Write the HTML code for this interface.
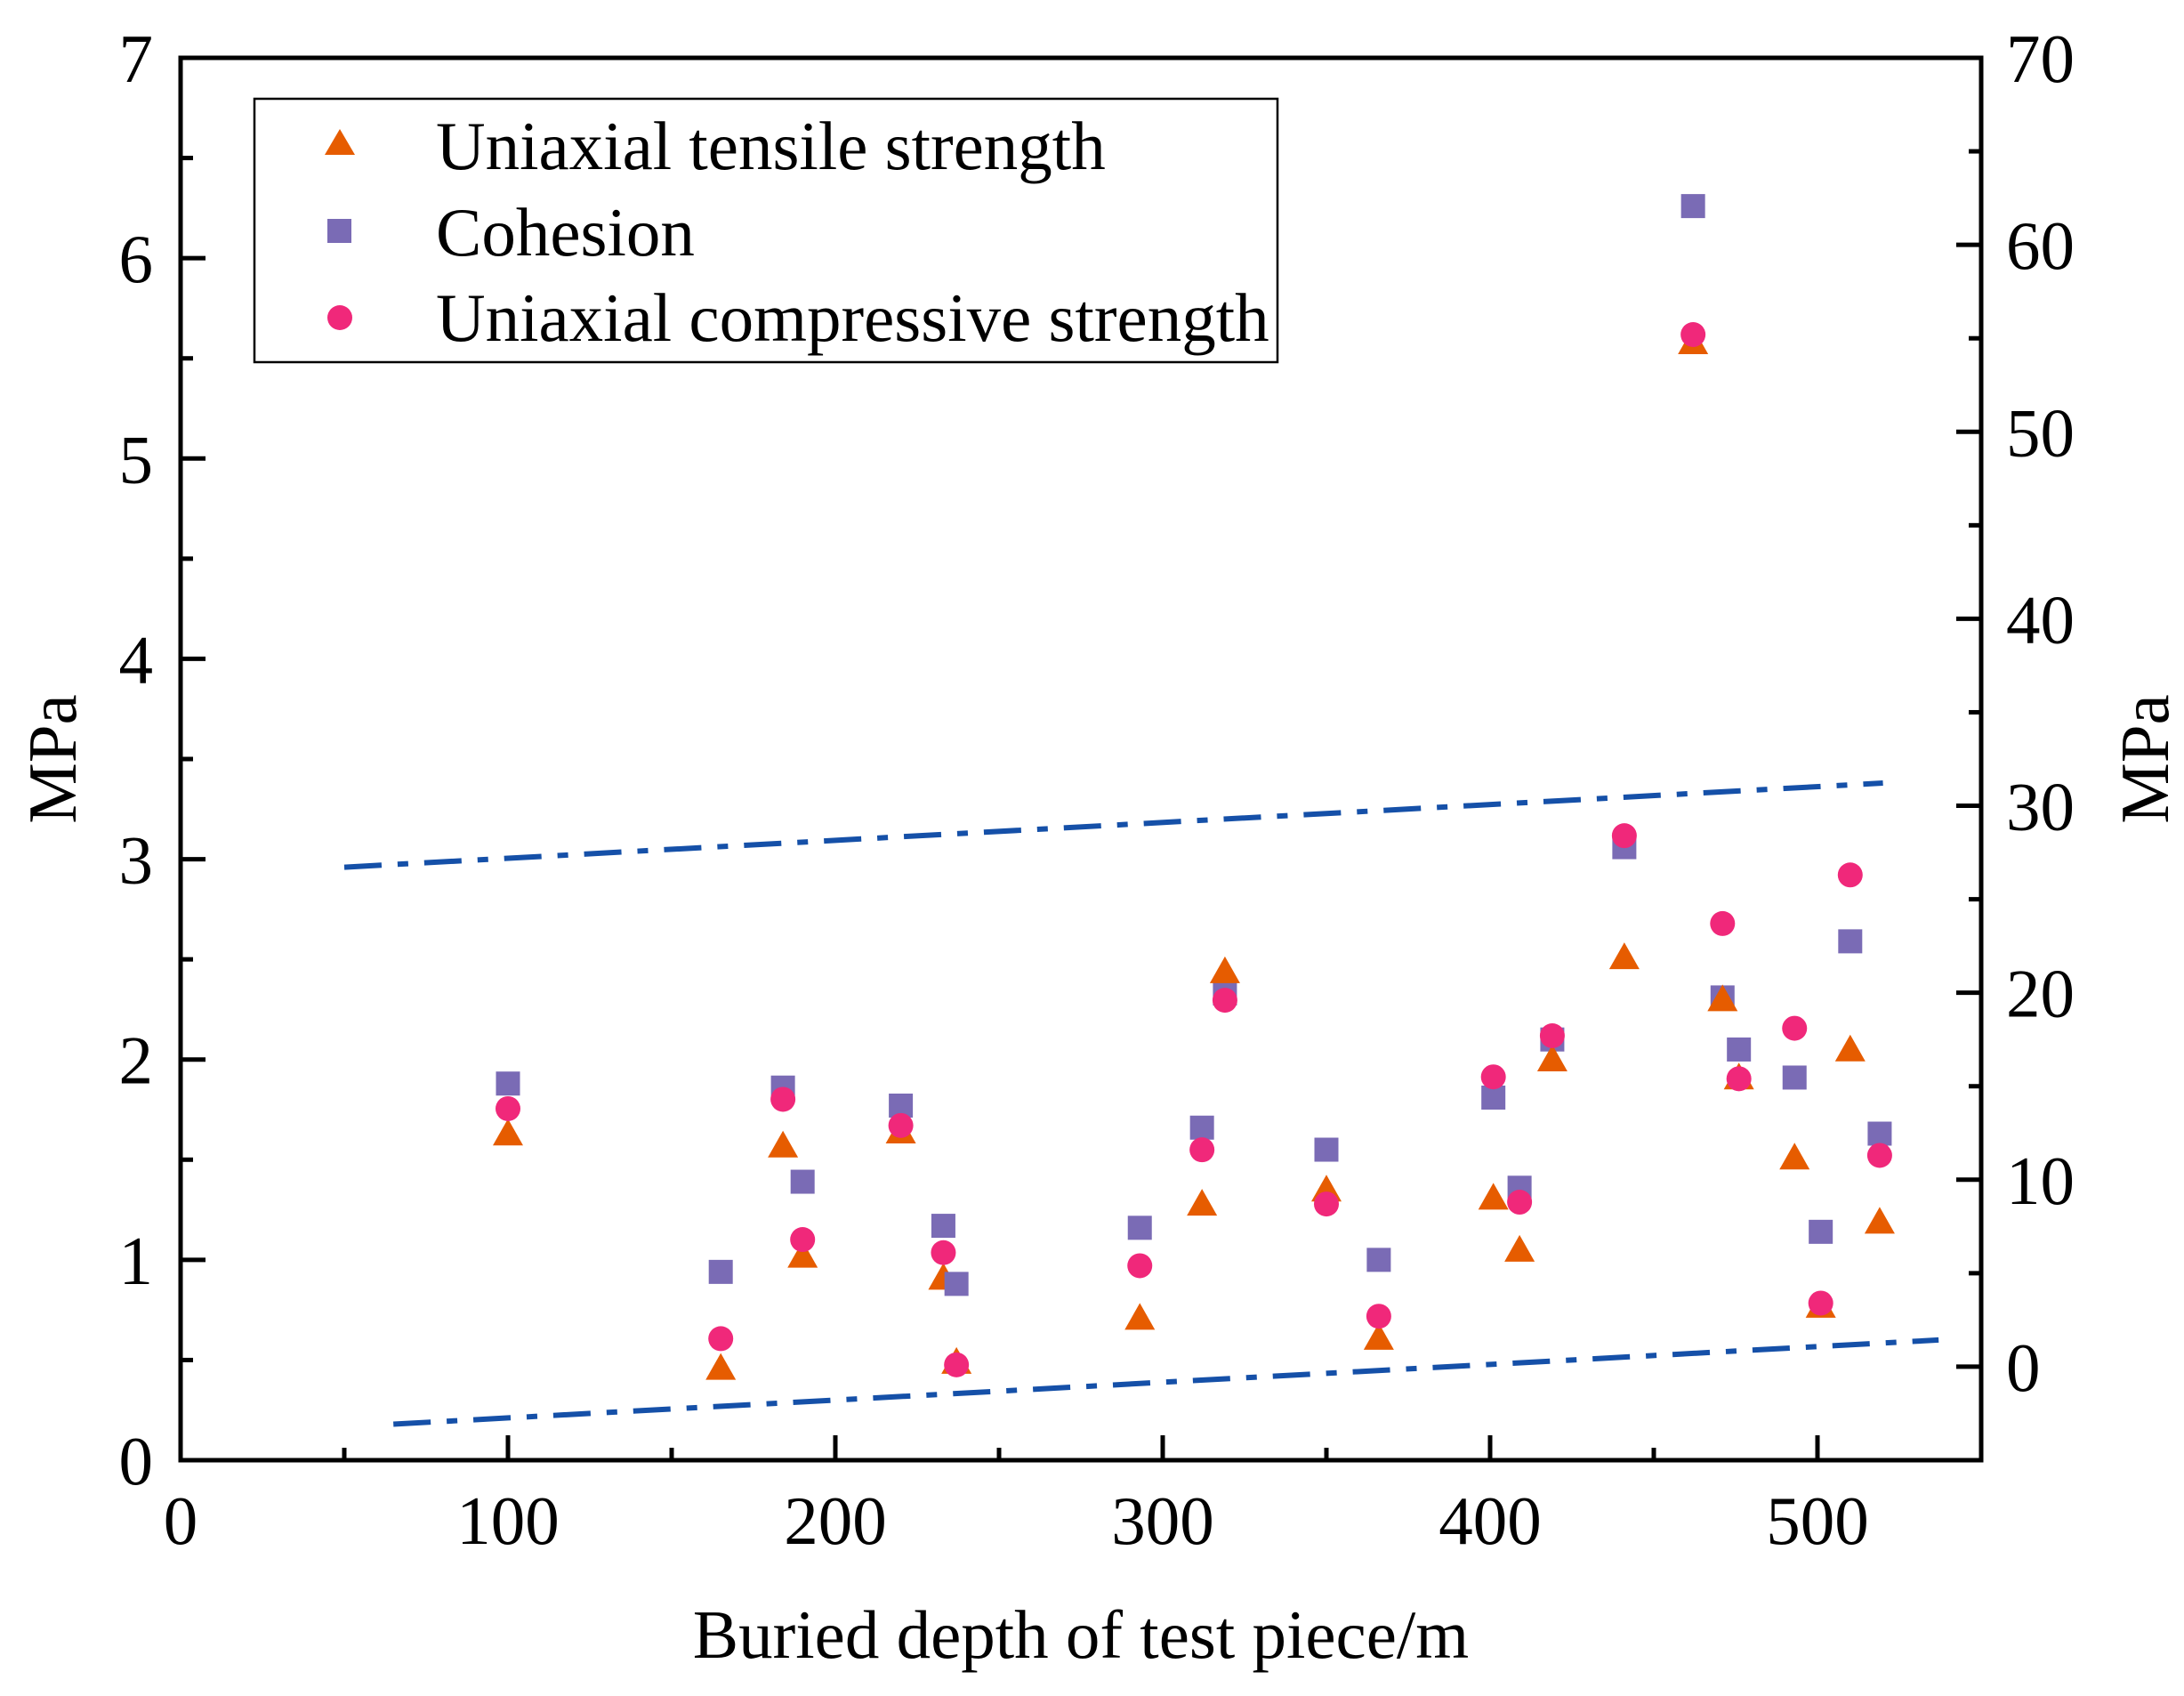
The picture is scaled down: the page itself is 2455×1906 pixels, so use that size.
<!DOCTYPE html>
<html><head><meta charset="utf-8"><style>
html,body{margin:0;padding:0;background:#fff}
svg{display:block;font-family:"Liberation Serif",serif}
</style></head><body>
<svg id="chart" width="2455" height="1906" viewBox="0 0 2455 1906" xmlns="http://www.w3.org/2000/svg">
<g id="marks"></g>
<rect x="203" y="65" width="2024" height="1576" fill="none" stroke="#000" stroke-width="5"/>
<g id="axes"></g>
<text x="1215" y="1863" font-size="77" text-anchor="middle">Buried depth of test piece/m</text>
<text x="0" y="0" font-size="77" text-anchor="middle" transform="translate(85,853) rotate(-90)">MPa</text>
<text x="0" y="0" font-size="77" text-anchor="middle" transform="translate(2437,853) rotate(-90)">MPa</text>
<g>
<rect x="286" y="111" width="1150" height="296" fill="#fff" stroke="#000" stroke-width="2.5"/>
<polygon points="382,145 399,174 365,174" fill="#E65C00"/>
<text x="490" y="190" font-size="77">Uniaxial tensile strength</text>
<rect x="368" y="246" width="27" height="27" fill="#7A6BB5"/>
<text x="490" y="287" font-size="77">Cohesion</text>
<circle cx="382" cy="357" r="14" fill="#F0287A"/>
<text x="490" y="383" font-size="77">Uniaxial compressive strength</text>
</g>
</svg>
<script>
const depths = [100,165,184,190,220,233,237,293,312,319,350,366,401,409,419,441,462,471,476,493,501,510,519];
const tensile = [1.62,0.45,1.56,1.01,1.63,0.9,0.48,0.7,1.27,2.43,1.34,0.6,1.3,1.04,1.99,2.5,5.57,2.29,1.9,1.5,0.76,2.04,1.18];
const cohesion = [1.88,0.94,1.86,1.39,1.77,1.17,0.88,1.16,1.66,2.33,1.55,1.0,1.81,1.36,2.1,3.06,6.26,2.31,2.05,1.91,1.14,2.59,1.63];
const ucs = [13.8,1.5,14.3,6.8,12.9,6.1,0.1,5.4,11.6,19.6,8.7,2.7,15.5,8.8,17.7,28.4,55.2,23.7,15.4,18.1,3.4,26.3,11.3];
const upperLineX = [50,520];
const upperLineY = [2.96,3.38];
const lowerLineX = [65,537];
const lowerLineY = [0.18,0.6];
const xTicks = [0,100,200,300,400,500];
const leftTicks = [0,1,2,3,4,5,6,7];
const rightTicks = [0,10,20,30,40,50,60,70];

const L=203,R=2227,T=65,B=1641;
const xS=v=>L+(v/550)*(R-L);
const yL=v=>B-(v/7)*(B-T);
const yR=v=>B-((v+5)/75)*(B-T);
const NS="http://www.w3.org/2000/svg";
function mk(tag,attrs,parent){const e=document.createElementNS(NS,tag);for(const k in attrs)e.setAttribute(k,attrs[k]);parent.appendChild(e);return e;}
const marks=document.getElementById('marks');
const axes=document.getElementById('axes');

[[upperLineX,upperLineY,'upper-fit-line'],[lowerLineX,lowerLineY,'lower-fit-line']].forEach(([xs,ys,n])=>{
  const l=mk('line',{x1:xS(xs[0]),y1:yL(ys[0]),x2:xS(xs[1]),y2:yL(ys[1]),stroke:'#1550A8','stroke-width':6,'stroke-dasharray':'42 18 12 18'},marks);
  
  
});
depths.forEach((d,i)=>{
  const x=xS(d);
  let y=yL(cohesion[i]);
  const s=mk('rect',{x:x-13.5,y:y-13.5,width:27,height:27,fill:'#7A6BB5'},marks);
  
  
  y=yL(tensile[i]);
  const t=mk('polygon',{points:`${x},${y-19} ${x+17},${y+11} ${x-17},${y+11}`,fill:'#E65C00'},marks);
  
  
  y=yR(ucs[i]);
  const c=mk('circle',{cx:x,cy:y,r:14,fill:'#F0287A'},marks);
  
  
});
for(let v=0;v<=550;v+=50){
  const x=xS(v),len=v%100===0?28:14;
  const tk=mk('line',{x1:x,y1:B,x2:x,y2:B-len,stroke:'#000','stroke-width':5},axes);
  
  
}
xTicks.forEach(v=>{
  const t=mk('text',{x:xS(v),y:1735,'font-size':77,'text-anchor':'middle'},axes);
  t.textContent=v;
  
  
});
for(let v=0;v<=7.001;v+=0.5){
  const y=yL(v),len=Math.abs(v-Math.round(v))<0.01?28:14;
  const tk=mk('line',{x1:L,y1:y,x2:L+len,y2:y,stroke:'#000','stroke-width':5},axes);
  
  
}
leftTicks.forEach(v=>{
  const t=mk('text',{x:172,y:yL(v)+27,'font-size':77,'text-anchor':'end'},axes);
  t.textContent=v;
  
  
});
for(let v=-5;v<=70;v+=5){
  const y=yR(v),len=v%10===0?28:14;
  const tk=mk('line',{x1:R,y1:y,x2:R-len,y2:y,stroke:'#000','stroke-width':5},axes);
  
  
}
rightTicks.forEach(v=>{
  const t=mk('text',{x:2255,y:yR(v)+27,'font-size':77,'text-anchor':'start'},axes);
  t.textContent=v;
  
  
});
</script>
</body></html>
